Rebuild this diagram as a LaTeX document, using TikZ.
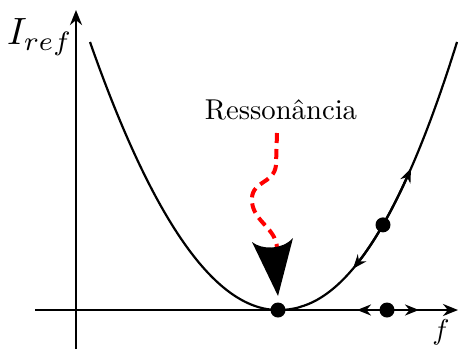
\documentclass[tikz,border=0pt]{standalone}
\usetikzlibrary{arrows.meta}
\begin{document}
\begin{tikzpicture}[x=1pt,y=-1pt,
  axis/.style={line width=2.6pt,-{Stealth[length=15pt,width=12pt]}},
  curve/.style={line width=2.2pt},
  dot/.style={circle,fill=black,inner sep=0pt,minimum size=15pt},
  motion/.style={line width=2.4pt,-{Stealth[length=14pt,width=11pt]}},
  lbl/.style={inner sep=0pt},
  reddash/.style={draw=red,line width=4pt,dash pattern=on 10pt off 6pt}]
\useasboundingbox (0,0) rectangle (460,349);
% axes
\coordinate (ybot) at (76,349);
\coordinate (ytop) at (76,10);
\coordinate (xl) at (35,310);
\coordinate (xr) at (458,310);
\draw[axis] (ybot) -- (ytop);
\draw[axis] (xl) -- (xr);
% curve
\draw[curve] plot[domain=90:278,samples=70] (\x,{310-268*((278-\x)/188)^2});
\draw[curve] plot[domain=278:457,samples=70] (\x,{310-268*pow(abs(\x-278)/179+0.0001,2.15)});
% dots
\node[dot] (v) at (278,310) {};
\node[dot] (p) at (387,310) {};
\node[dot] (q) at (383,{310-268*pow(105/179,2.15)}) {};
% motion arrows on axis
\coordinate (pl) at (357,310);
\coordinate (pr) at (419,310);
\draw[motion] (p.center) -- (pl);
\draw[motion] (p.center) -- (pr);
% motion arrows on curve
\draw[motion] plot[domain=383:411,samples=15] (\x,{310-268*pow(abs(\x-278)/179+0.0001,2.15)});
\draw[motion] plot[domain=383:353,samples=15] (\x,{310-268*pow(abs(\x-278)/179+0.0001,2.15)});
% resonance pointer
\coordinate (rtop) at (277,133);
\coordinate (rback) at (277,248);
\coordinate (tip) at (278,296);
\draw[reddash] (rtop) -- (276,165) .. controls (274,185) and (250,180) .. (252,202) .. controls (254,222) and (276,228) .. (rback);
\fill[black] (tip) -- (252,242) .. controls (262,250) and (282,250) .. (293,238) -- cycle;
% labels
\node[lbl,scale=3.8] (ylab) at (40,37) {$I_{ref}$};
\node[lbl,scale=2.87] (xlab) at (441,332) {$f$};
\node[lbl,scale=2.87] (res) at (281,110) {Ressonância};
\end{tikzpicture}
\end{document}
